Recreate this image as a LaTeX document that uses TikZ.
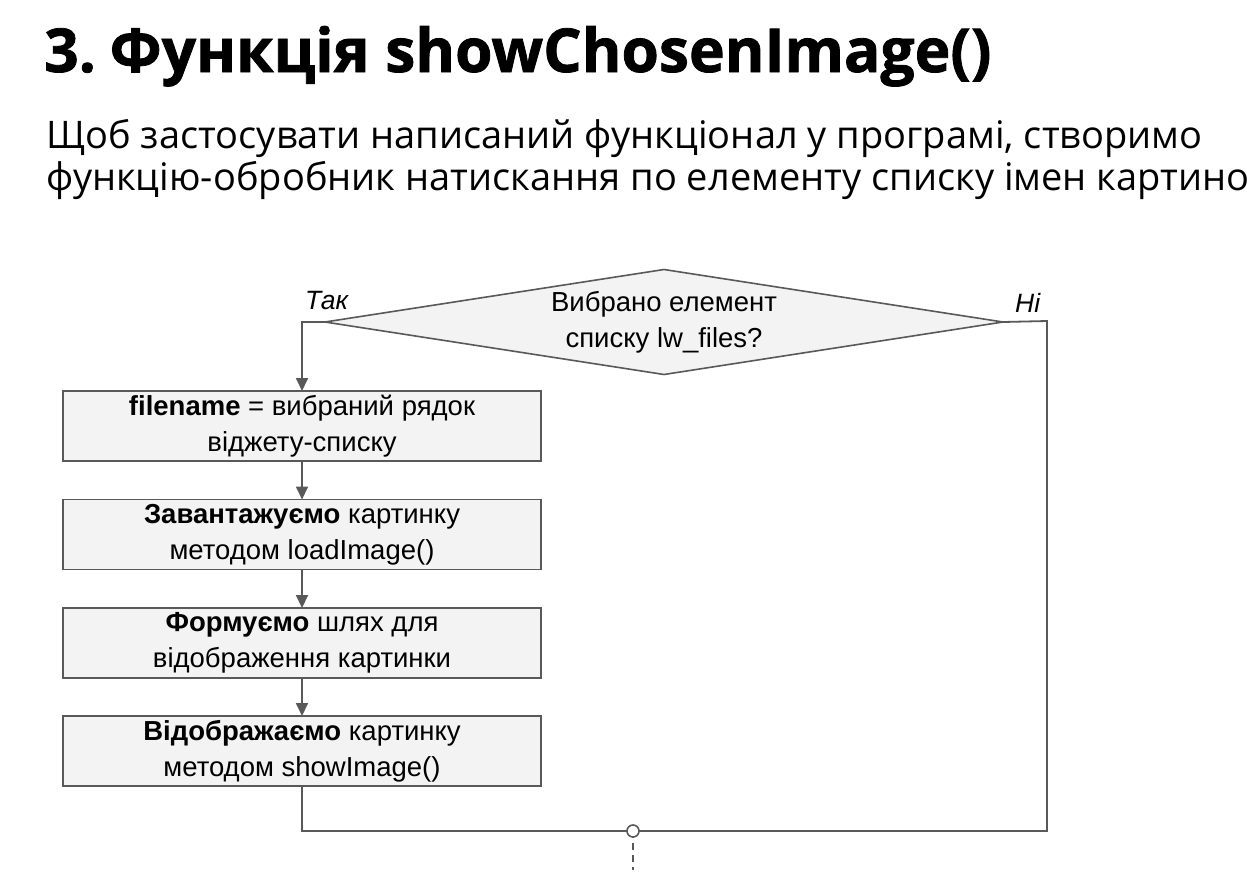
\documentclass[tikz,border=0pt]{standalone}
\usepackage{fontspec}
\setmainfont{Liberation Sans}
\newfontfamily\headfont{Open Sans}[BoldFeatures={FakeBold=1.3}]
\usetikzlibrary{shapes.geometric,arrows.meta}
\definecolor{edge}{HTML}{595959}
\definecolor{boxfill}{HTML}{F3F3F3}
\begin{document}
\begin{tikzpicture}[x=1pt,y=-1pt,
  stepbox/.style={draw=edge, fill=boxfill, line width=1.6pt, minimum width=478pt,
    minimum height=70pt, align=center, inner sep=0pt, outer sep=0pt,
    font=\fontsize{27.5}{33}\selectfont},
  flow/.style={draw=edge, line width=1.8pt},
  arr/.style={flow, -{Triangle[length=13pt,width=12pt]}},
  lbl/.style={anchor=base west, inner sep=0pt, font=\fontsize{26.5}{30}\selectfont\itshape}]
\useasboundingbox (0,0) rectangle (1247,878);

% heading and introduction
\node[anchor=base west, inner sep=0pt, font=\headfont\bfseries\fontsize{60.5}{62}\selectfont]
  (title) at (44,72) {3.\kern-0.12em{} Функція showChosenImage()};
\node[anchor=base west, inner sep=0pt, font=\headfont\fontsize{38}{42}\selectfont]
  (intro1) at (46,148) {Щоб застосувати написаний функціонал у програмі, створимо};
\node[anchor=base west, inner sep=0pt, font=\headfont\fontsize{38}{42}\selectfont]
  (intro2) at (46,190) {функцію-обробник натискання по елементу списку імен картинок};

% decision
\node[diamond, draw=edge, fill=boxfill, line width=1.6pt, shape aspect=6.46,
  minimum width=678pt, minimum height=105pt, inner sep=0pt, outer sep=0pt, align=center,
  font=\fontsize{27.5}{33}\selectfont] (q) at (664,322)
  {Вибрано елемент\\[3pt]списку lw\_files?};
\node[lbl] (yes) at (305,309) {Так};
\node[lbl] (no) at (1015,312) {Ні};

% processing steps
\node[stepbox] (b1) at (302,426) {\textbf{filename} = вибраний рядок\\[3pt]віджету-списку};
\node[stepbox] (b2) at (302,534.5) {\textbf{Завантажуємо} картинку\\[3pt]методом loadImage()};
\node[stepbox] (b3) at (302,643) {\textbf{Формуємо} шлях для\\[3pt]відображення картинки};
\node[stepbox] (b4) at (302,751) {\textbf{Відображаємо} картинку\\[3pt]методом showImage()};

% connectors
\coordinate (rt) at (1047,321);
\coordinate (join) at (633,831);
\coordinate (out) at (633,870);
\draw[arr] (q.west) -| (b1.north);
\draw[arr] (b1.south) -- (b2.north);
\draw[arr] (b2.south) -- (b3.north);
\draw[arr] (b3.south) -- (b4.north);
\draw[flow] (q.east) -- (rt) |- (join);
\draw[flow] (b4.south) |- (join);
\draw[flow, dash pattern=on 7pt off 5pt] (join) -- (out);
\node[circle, draw=edge, fill=white, line width=1.6pt, minimum size=12pt, inner sep=0pt]
  (jn) at (join) {};
\end{tikzpicture}
\end{document}
